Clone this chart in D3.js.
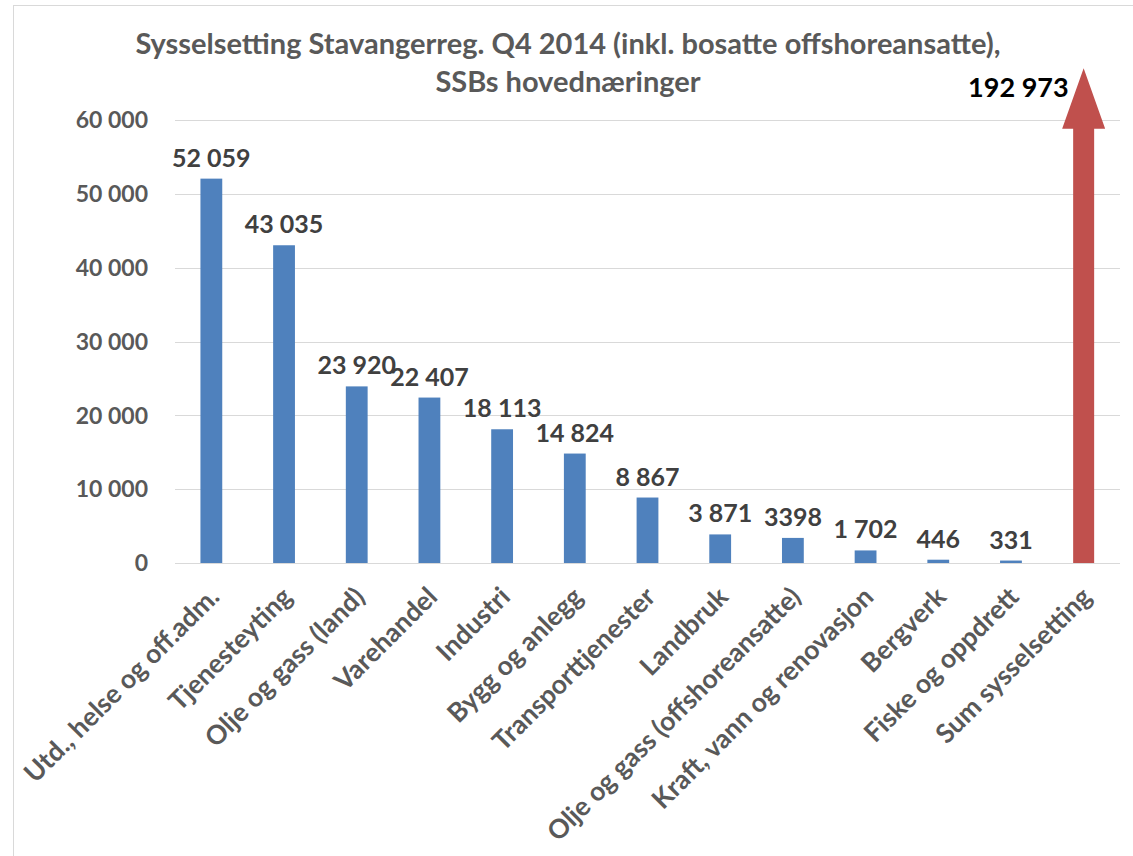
<!DOCTYPE html>
<html><head><meta charset="utf-8">
<script src="https://cdn.jsdelivr.net/npm/d3@7"></script>
<style>body{margin:0;background:#fff}svg{display:block}text{font-family:Lato,"Open Sans",sans-serif;font-weight:bold}</style>
</head><body><svg id="c" width="1133" height="856"></svg>
<script>
const categories = ["Utd., helse og off.adm.","Tjenesteyting","Olje og gass (land)","Varehandel","Industri","Bygg og anlegg","Transporttjenester","Landbruk","Olje og gass (offshoreansatte)","Kraft, vann og renovasjon","Bergverk","Fiske og oppdrett","Sum sysselsetting"];
const values = [52059,43035,23920,22407,18113,14824,8867,3871,3398,1702,446,331,192973];
const valueLabels = ["52 059","43 035","23 920","22 407","18 113","14 824","8 867","3 871","3398","1 702","446","331","192 973"];
const yTicks = [0,10000,20000,30000,40000,50000,60000];
const titleLines = ["Sysselsetting Stavangerreg. Q4 2014 (inkl. bosatte offshoreansatte),","SSBs hovednæringer"];

const svg = d3.select("#c");
const m = {l:175, r:1120, t:120, b:563};
const x = d3.scaleBand().domain(categories).range([m.l, m.r]).padding(0);
const y = d3.scaleLinear().domain([0,60000]).range([m.b, m.t]);
const fmt = v => d3.format(",")(v).replace(/,/g," ");

svg.append("rect").attr("x",13.5).attr("y",5.5).attr("width",1130).attr("height",860)
  .attr("fill","none").attr("stroke","#d9d9d9");

// gridlines
svg.append("g").selectAll("line").data(yTicks).join("line")
  .attr("x1",m.l).attr("x2",m.r).attr("y1",d=>Math.round(y(d))+0.5).attr("y2",d=>Math.round(y(d))+0.5)
  .attr("stroke","#d9d9d9").attr("stroke-width",1);

// y tick labels
svg.append("g").selectAll("text").data(yTicks).join("text")
  .attr("x",148).attr("y",d=>y(d)).attr("dy","0.36em").attr("text-anchor","end")
  .attr("fill","#595959").attr("font-size",23).text(fmt);

const bw = x.bandwidth()*0.3;
const barData = categories.slice(0,-1).map((c,i)=>({c, v:values[i], l:valueLabels[i]}));

svg.append("g").selectAll("rect").data(barData).join("rect")
  .attr("x",d=>x(d.c)+x.bandwidth()/2-bw/2).attr("width",bw)
  .attr("y",d=>y(d.v)).attr("height",d=>y(0)-y(d.v)).attr("fill","#4f81bd");

svg.append("g").selectAll("text").data(barData).join("text")
  .attr("x",d=>x(d.c)+x.bandwidth()/2).attr("y",d=>y(d.v)-12)
  .attr("text-anchor","middle").attr("fill","#404040").attr("font-size",25).text(d=>d.l);

// arrow for sum
const sc = categories[categories.length-1];
const cx = x(sc)+x.bandwidth()/2;
const sw = 21, hw = 43;
const yBase = y(0), yHead = y(58800), yTip = y(67000);
svg.append("path").attr("fill","#c0504d")
  .attr("d",`M${cx-sw/2},${yBase}L${cx-sw/2},${yHead}L${cx-hw/2},${yHead}L${cx},${yTip}L${cx+hw/2},${yHead}L${cx+sw/2},${yHead}L${cx+sw/2},${yBase}Z`);
svg.append("text").attr("x",cx-15).attr("y",yTip+29).attr("text-anchor","end")
  .attr("fill","#000").attr("font-size",27).attr("font-weight",900).text(valueLabels[valueLabels.length-1]);

// x labels
svg.append("g").selectAll("text").data(categories).join("text")
  .attr("transform",d=>`translate(${x(d)+x.bandwidth()/2+3},${m.b+29}) rotate(-45)`)
  .attr("text-anchor","end").attr("dy","0.35em")
  .attr("fill","#595959").attr("font-size",26.5).text(d=>d);

// title
svg.append("g").selectAll("text").data(titleLines).join("text")
  .attr("x",568).attr("y",(d,i)=>54+i*38).attr("text-anchor","middle")
  .attr("fill","#595959").attr("font-size",29).text(d=>d);
</script></body></html>
